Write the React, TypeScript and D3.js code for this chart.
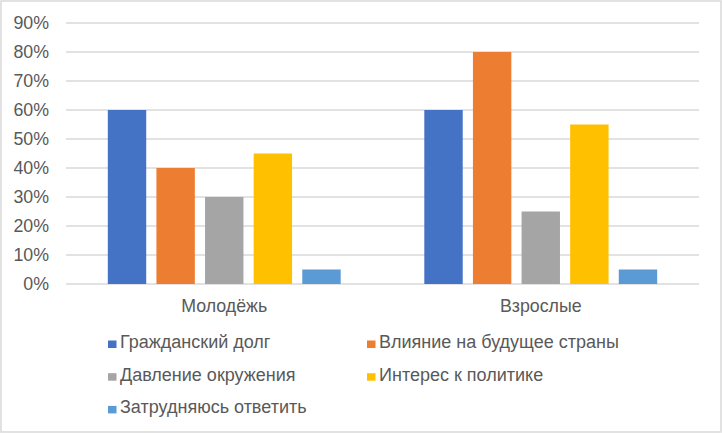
import React from 'react';
import * as d3 from 'd3';

const groups = ['Молодёжь', 'Взрослые'];
const seriesNames = [
  'Гражданский долг',
  'Влияние на будущее страны',
  'Давление окружения',
  'Интерес к политике',
  'Затрудняюсь ответить',
];
const seriesColors = ['#4472C4', '#ED7D31', '#A5A5A5', '#FFC000', '#5B9BD5'];
const youthValues = [0.6, 0.4, 0.3, 0.45, 0.05];
const adultValues = [0.6, 0.8, 0.25, 0.55, 0.05];
const yTicks = [0, 0.1, 0.2, 0.3, 0.4, 0.5, 0.6, 0.7, 0.8, 0.9];

const W = 722;
const H = 434;
const font = '"Liberation Sans", Arial, sans-serif';
const textColor = '#595959';

const App: React.FC = () => {
  const values = [youthValues, adultValues];

  const y = d3.scaleLinear().domain([0, 0.9]).range([284, 23]);
  const x0 = d3.scaleBand<string>().domain(groups).range([66, 699]);
  const x1 = d3
    .scaleBand<number>()
    .domain(d3.range(seriesNames.length))
    .range([0, x0.bandwidth()])
    .paddingInner(0.21)
    .paddingOuter(0.86);
  const fmt = d3.format('.0%');

  // legend: two columns, rows of 33px
  const legendCols = [108, 367];
  const legendTop = 348;
  const legendRow = 32.7;

  return (
    <div style={{ position: 'absolute', left: 0, top: 0 }}>
      <svg width={W} height={H} style={{ display: 'block' }} fontFamily={font}>
        <rect x={1} y={1} width={W - 2} height={H - 3} fill="#fff" stroke="#d9d9d9" strokeWidth={1.5} />

        {yTicks.map((t) => (
          <g key={t}>
            <line x1={66} x2={699} y1={y(t)} y2={y(t)} stroke="#d9d9d9" strokeWidth={1.4} />
            <text x={49} y={y(t)} dy="0.36em" textAnchor="end" fontSize={17.8} fill={textColor}>
              {fmt(t)}
            </text>
          </g>
        ))}

        {groups.map((g, gi) => (
          <g key={g} transform={`translate(${x0(g)},0)`}>
            {values[gi].map((v, si) => (
              <rect
                key={si}
                x={x1(si)}
                y={y(v)}
                width={x1.bandwidth()}
                height={y(0) - y(v)}
                fill={seriesColors[si]}
              />
            ))}
            <text
              x={x0.bandwidth() / 2}
              y={311.5}
              textAnchor="middle"
              fontSize={17.8}
              fill={textColor}
            >
              {g}
            </text>
          </g>
        ))}

        {seriesNames.map((name, i) => {
          const lx = legendCols[i % 2];
          const ly = legendTop + Math.floor(i / 2) * legendRow;
          return (
            <g key={name}>
              <rect x={lx} y={ly - 7.5} width={8.5} height={7.5} fill={seriesColors[i]} />
              <text x={lx + 12} y={ly} fontSize={18} fill={textColor}>
                {name}
              </text>
            </g>
          );
        })}
      </svg>
    </div>
  );
};

export default App;
